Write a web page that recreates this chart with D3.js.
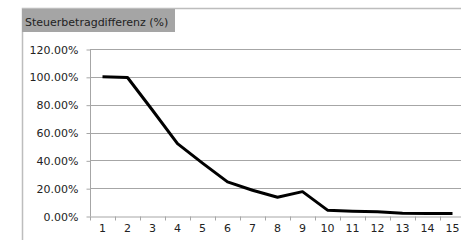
<!DOCTYPE html>
<html>
<head>
<meta charset="utf-8">
<script src="https://cdn.jsdelivr.net/npm/d3@7"></script>
<style>
  body { margin: 0; background: #fff; }
  text { font-family: "DejaVu Sans", sans-serif; font-size: 11px; fill: #222; }
</style>
</head>
<body>
<script>
// Daten
var categories = [1, 2, 3, 4, 5, 6, 7, 8, 9, 10, 11, 12, 13, 14, 15];
var values = [100, 99.5, 76, 52, 38, 24.5, 18.5, 13.5, 17.5, 4.2, 3.5, 3, 2, 1.8, 1.8];
var yTicks = [0, 20, 40, 60, 80, 100, 120];
var title = "Steuerbetragdifferenz (%)";

var width = 461, height = 240;
var margin = {top: 49, right: -4, bottom: 24, left: 90};

var svg = d3.select("body").append("svg")
    .attr("width", width)
    .attr("height", height);

// Rahmen
svg.append("path")
    .attr("d", "M22.5," + height + "V8.5H" + width)
    .attr("fill", "none")
    .attr("stroke", "#bdbdbd")
    .attr("stroke-width", 1.5);

var x = d3.scaleBand()
    .domain(categories)
    .range([margin.left, width - margin.right]);

var y = d3.scaleLinear()
    .domain([0, 120])
    .range([height - margin.bottom, margin.top]);

// Gitterlinien
svg.append("g")
    .selectAll("line")
    .data(yTicks.slice(1))
    .enter().append("line")
    .attr("x1", margin.left)
    .attr("x2", width)
    .attr("y1", d => Math.round(y(d)) + 0.5)
    .attr("y2", d => Math.round(y(d)) + 0.5)
    .attr("stroke", "#a6a6a6");

// y-Achse
var yAxis = svg.append("g")
    .attr("transform", "translate(" + (margin.left + 0.5) + ",0.5)")
    .call(d3.axisLeft(y).tickValues(yTicks).tickSize(4).tickPadding(8)
        .tickFormat(d => d.toFixed(2) + "%"));
yAxis.select(".domain").attr("stroke", "#a6a6a6").attr("d", "M0," + y(0) + "V" + y(120));
yAxis.selectAll(".tick line").attr("stroke", "#a6a6a6");
yAxis.selectAll("text").style("font-size", "11px").attr("fill", "#222");

// x-Achse
var xAxis = svg.append("g")
    .attr("transform", "translate(0," + (Math.round(y(0)) + 0.5) + ")")
    .call(d3.axisBottom(x).tickSize(0).tickPadding(8));
xAxis.select(".domain").attr("stroke", "#a6a6a6");
xAxis.selectAll("text").style("font-size", "11px").attr("fill", "#222");
xAxis.selectAll(".sep")
    .data(categories)
    .enter().append("line")
    .attr("class", "sep")
    .attr("x1", d => x(d) + 0.5)
    .attr("x2", d => x(d) + 0.5)
    .attr("y1", 0)
    .attr("y2", 4)
    .attr("stroke", "#a6a6a6");

// Linie
var line = d3.line()
    .x((d, i) => x(categories[i]) + x.bandwidth() / 2)
    .y(d => y(d));

svg.append("path")
    .datum(values)
    .attr("d", line)
    .attr("fill", "none")
    .attr("stroke", "#000")
    .attr("stroke-width", 3)
    .attr("stroke-linejoin", "round");

// Titel
var tg = svg.append("g");
tg.append("rect")
    .attr("x", 22)
    .attr("y", 9)
    .attr("width", 153)
    .attr("height", 23)
    .attr("fill", "#a5a5a5");
tg.append("text")
    .attr("x", 25)
    .attr("y", 26)
    .attr("fill", "#111")
    .text(title);
</script>
</body>
</html>
